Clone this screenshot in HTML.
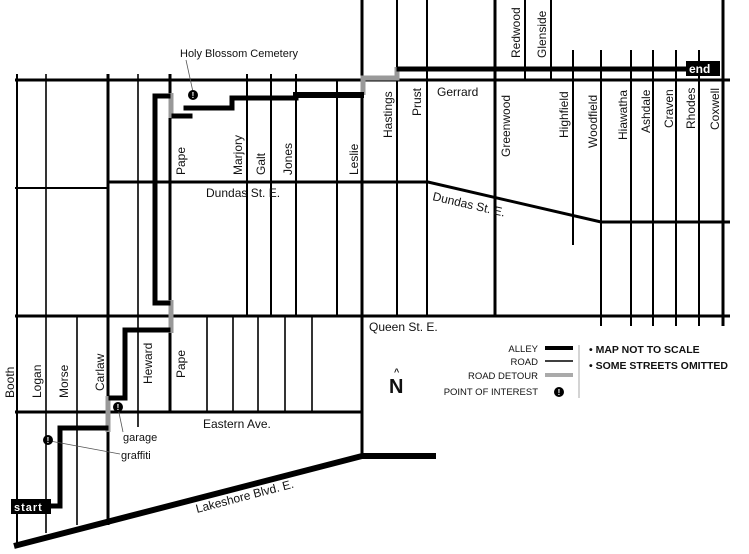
<!DOCTYPE html>
<html><head><meta charset="utf-8"><style>
html,body{margin:0;padding:0;background:#fff;}
svg{display:block;}
text{font-family:"Liberation Sans",sans-serif;fill:#111;}
</style></head><body>
<svg width="749" height="554" viewBox="0 0 749 554" xmlns="http://www.w3.org/2000/svg">
<g stroke="#000" fill="none">
<!-- horizontal roads -->
<line x1="15" y1="80" x2="730" y2="80" stroke-width="3"/>
<line x1="15" y1="188" x2="108" y2="188" stroke-width="2"/>
<polyline points="108,182 428,182 601,222 730,222" stroke-width="3"/>
<line x1="15" y1="316" x2="730" y2="316" stroke-width="3"/>
<line x1="15" y1="412" x2="362" y2="412" stroke-width="3"/>
<!-- top verticals -->
<line x1="17" y1="74" x2="545" y2="74" stroke-width="0"/>
<line x1="17" y1="74" x2="17" y2="546" stroke-width="2"/>
<line x1="46" y1="74" x2="46" y2="533" stroke-width="1.6"/>
<line x1="108" y1="74" x2="108" y2="525" stroke-width="3"/>
<line x1="138" y1="74" x2="138" y2="427" stroke-width="1.6"/>
<line x1="170" y1="74" x2="170" y2="412" stroke-width="3"/>
<line x1="247" y1="74" x2="247" y2="316" stroke-width="2"/>
<line x1="271" y1="74" x2="271" y2="316" stroke-width="2"/>
<line x1="296" y1="74" x2="296" y2="316" stroke-width="2"/>
<line x1="337" y1="80" x2="337" y2="316" stroke-width="2"/>
<line x1="362" y1="0" x2="362" y2="456" stroke-width="3"/>
<line x1="397" y1="0" x2="397" y2="316" stroke-width="2"/>
<line x1="427" y1="0" x2="427" y2="316" stroke-width="2"/>
<line x1="495" y1="0" x2="495" y2="316" stroke-width="3"/>
<line x1="525" y1="0" x2="525" y2="80" stroke-width="2"/>
<line x1="551" y1="0" x2="551" y2="80" stroke-width="2"/>
<line x1="573" y1="50" x2="573" y2="245" stroke-width="2"/>
<line x1="601" y1="50" x2="601" y2="326" stroke-width="2"/>
<line x1="631" y1="50" x2="631" y2="326" stroke-width="2"/>
<line x1="653" y1="50" x2="653" y2="326" stroke-width="2"/>
<line x1="676" y1="50" x2="676" y2="326" stroke-width="2"/>
<line x1="699" y1="50" x2="699" y2="326" stroke-width="2"/>
<line x1="723" y1="0" x2="723" y2="326" stroke-width="3"/>
<!-- below queen -->
<line x1="77" y1="316" x2="77" y2="525" stroke-width="1.6"/>
<line x1="207" y1="316" x2="207" y2="412" stroke-width="1.6"/>
<line x1="233" y1="316" x2="233" y2="412" stroke-width="1.6"/>
<line x1="258" y1="316" x2="258" y2="412" stroke-width="1.6"/>
<line x1="285" y1="316" x2="285" y2="412" stroke-width="1.6"/>
<line x1="312" y1="316" x2="312" y2="412" stroke-width="1.6"/>
<!-- lakeshore -->
<line x1="14" y1="546" x2="362" y2="456" stroke-width="6"/>
<line x1="362" y1="456" x2="436" y2="456" stroke-width="6"/>
</g>
<!-- detours -->
<g stroke="#999" stroke-width="5" fill="none">
<line x1="108" y1="396" x2="108" y2="432"/>
<line x1="171" y1="300" x2="171" y2="333"/>
<line x1="171" y1="93" x2="171" y2="118"/>
<polyline points="363,95 363,78 397,78 397,67"/>
</g>
<!-- alley -->
<g stroke="#000" stroke-width="5" fill="none" stroke-linecap="square">
<polyline points="50,506 60,506 60,428 106,428"/>
<polyline points="111,398 125,398 125,330 168,330"/>
<polyline points="168,303 155,303 155,96 168,96"/>
<line x1="174" y1="116" x2="190" y2="116"/>
<polyline points="186,108 232,108 232,98 296,98"/>
<line x1="296" y1="95" x2="361" y2="95" stroke-width="6"/>
<line x1="399" y1="69" x2="688" y2="69"/>
</g>
<rect x="11" y="499" width="40" height="15" fill="#000"/>
<text x="14" y="511" font-size="11" font-weight="bold" style="fill:#fff" letter-spacing="1">start</text>
<rect x="686" y="61" width="34" height="15" fill="#000"/>
<text x="689" y="73" font-size="12" font-weight="bold" style="fill:#fff">end</text>
<!-- POIs -->
<g stroke="#555" stroke-width="0.8">
<line x1="193" y1="92" x2="186" y2="60"/>
<line x1="118" y1="408" x2="123" y2="432"/>
<line x1="50" y1="441" x2="120" y2="454"/>
</g>
<g fill="#000">
<circle cx="193" cy="95" r="5"/><circle cx="118" cy="407" r="5"/><circle cx="48" cy="440" r="5"/><circle cx="559" cy="392" r="5"/>
</g>
<g font-size="8" font-weight="bold" style="fill:#fff" text-anchor="middle">
<text x="193" y="98" style="fill:#fff">!</text><text x="118" y="410" style="fill:#fff">!</text><text x="48" y="443" style="fill:#fff">!</text><text x="559" y="395" style="fill:#fff">!</text>
</g>
<g font-size="11">
<text x="180" y="57">Holy Blossom Cemetery</text>
<text x="123" y="441">garage</text>
<text x="121" y="459">graffiti</text>
<text x="437" y="96" font-size="12">Gerrard</text>
<text x="206" y="197" font-size="12">Dundas St. E.</text>
<text x="432" y="200" font-size="12" transform="rotate(13 432 200)">Dundas St. E.</text>
<text x="369" y="331" font-size="12">Queen St. E.</text>
<text x="203" y="428" font-size="12">Eastern Ave.</text>
<text x="197" y="513" font-size="12" transform="rotate(-14.7 197 513)">Lakeshore Blvd. E.</text>
</g>
<g font-size="12">
<text transform="translate(14,398) rotate(-90)">Booth</text>
<text transform="translate(41,398) rotate(-90)">Logan</text>
<text transform="translate(68,398) rotate(-90)">Morse</text>
<text transform="translate(104,391) rotate(-90)">Carlaw</text>
<text transform="translate(152,384) rotate(-90)">Heward</text>
<text transform="translate(185,378) rotate(-90)">Pape</text>
<text transform="translate(185,175) rotate(-90)">Pape</text>
<text transform="translate(242,175) rotate(-90)">Marjory</text>
<text transform="translate(265,175) rotate(-90)">Galt</text>
<text transform="translate(292,175) rotate(-90)">Jones</text>
<text transform="translate(358,175) rotate(-90)">Leslie</text>
<text transform="translate(392,138) rotate(-90)">Hastings</text>
<text transform="translate(421,116) rotate(-90)">Prust</text>
<text transform="translate(510,157) rotate(-90)">Greenwood</text>
<text transform="translate(568,138) rotate(-90)">Highfield</text>
<text transform="translate(597,148) rotate(-90)">Woodfield</text>
<text transform="translate(627,140) rotate(-90)">Hiawatha</text>
<text transform="translate(650,133) rotate(-90)">Ashdale</text>
<text transform="translate(673,128) rotate(-90)">Craven</text>
<text transform="translate(695,129) rotate(-90)">Rhodes</text>
<text transform="translate(719,130) rotate(-90)">Coxwell</text>
<text transform="translate(520,58) rotate(-90)">Redwood</text>
<text transform="translate(546,58) rotate(-90)">Glenside</text>
</g>
<!-- legend -->
<g font-size="9.5" text-anchor="end">
<text x="538" y="352">ALLEY</text>
<text x="538" y="365">ROAD</text>
<text x="538" y="379">ROAD DETOUR</text>
<text x="538" y="395">POINT OF INTEREST</text>
</g>
<line x1="545" y1="348" x2="573" y2="348" stroke="#000" stroke-width="4"/>
<line x1="545" y1="361" x2="573" y2="361" stroke="#000" stroke-width="1.5"/>
<line x1="545" y1="375" x2="573" y2="375" stroke="#aaa" stroke-width="4"/>
<line x1="579" y1="345" x2="579" y2="398" stroke="#aaa" stroke-width="1"/>
<text x="589" y="353" font-size="10.5" font-weight="bold">• MAP NOT TO SCALE</text>
<text x="589" y="369" font-size="10.5" font-weight="bold">• SOME STREETS OMITTED</text>
<text x="389" y="393" font-size="20" font-weight="bold">N</text>
<text x="394" y="375" font-size="9" font-weight="bold">^</text>
</svg>
</body></html>
